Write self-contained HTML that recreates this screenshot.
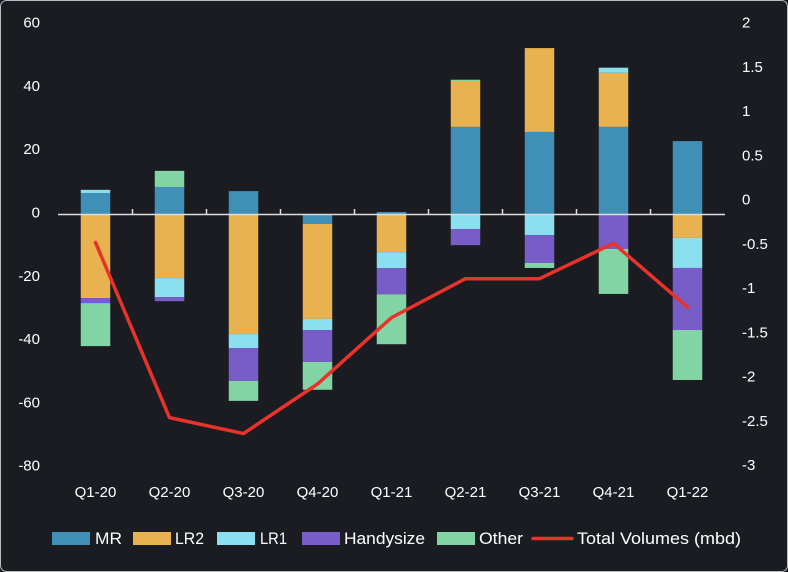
<!DOCTYPE html>
<html><head><meta charset="utf-8"><style>
body{margin:0;background:#1b1c22;}
svg{display:block;font-family:"Liberation Sans",sans-serif;}
</style></head><body>
<svg id="c" width="788" height="572">
<rect x="0.5" y="0.5" width="787" height="571" rx="6" fill="#1b1c22" stroke="#bbb"/>
<g id="g"></g>
</svg>
<script>
const categories=["Q1-20","Q2-20","Q3-20","Q4-20","Q1-21","Q2-21","Q3-21","Q4-21","Q1-22"];
const MR=[6.8,8.7,7.4,-3.0,0.8,27.7,26.1,27.7,23.2];
const LR2=[-26.4,-20.1,-37.8,-30.0,-11.9,14.5,26.5,17.1,-7.4];
const LR1=[1.0,-6.0,-4.4,-3.5,-5.1,-4.6,-6.5,1.6,-9.5];
const Handysize=[-1.6,-1.3,-10.4,-10.1,-8.2,-5.1,-8.8,-10.9,-19.6];
const Other=[-13.6,5.1,-6.3,-8.8,-15.8,0.4,-1.6,-14.2,-15.8];
const totalVolumes=[-0.46,-2.44,-2.62,-2.06,-1.31,-0.87,-0.87,-0.47,-1.19];
const leftTicks=[60,40,20,0,-20,-40,-60,-80];
const rightTicks=[2,1.5,1,0.5,0,-0.5,-1,-1.5,-2,-2.5,-3];
const seriesNames=["MR","LR2","LR1","Handysize","Other"];
const seriesColors=["#3f8fb6","#e9b251","#8be0f0","#785cc7","#83d4a5"];
const seriesData=[MR,LR2,LR1,Handysize,Other];

const NS="http://www.w3.org/2000/svg";
const g=document.getElementById('g');
function mk(t,a,txt){const e=document.createElementNS(NS,t);for(const k in a)e.setAttribute(k,a[k]);if(txt!==undefined)e.textContent=txt;g.appendChild(e);return e;}
const y=v=>214.5-v*3.164;
const yr=v=>201.7-v*88.5;
const x=i=>95.5+i*74;
const bw=29.5;

leftTicks.forEach(t=>{const e=mk('text',{x:40,y:y(t)+3,'text-anchor':'end','font-size':15,fill:'#fff'},String(t));

});
rightTicks.forEach(t=>{const e=mk('text',{x:742,y:yr(t)+3,'text-anchor':'start','font-size':15,fill:'#fff'},String(t));

});

categories.forEach((c,i)=>{
  let pos=0,neg=0;
  seriesData.forEach((s,k)=>{
    const v=s[i];let y0,y1;
    if(v>=0){y0=pos;y1=pos+v;pos=y1;}else{y0=neg;y1=neg+v;neg=y1;}
    const r=mk('rect',{x:x(i)-bw/2,y:Math.min(y(y0),y(y1)),width:bw,height:Math.abs(y(y0)-y(y1)),fill:seriesColors[k]});
    
    
  });
  const l=mk('text',{x:x(i),y:497,'text-anchor':'middle','font-size':15,fill:'#fff'},c);
  
  
});
const ax=mk('line',{x1:58,x2:725,y1:214.5,y2:214.5,stroke:'#ddd','stroke-width':1.5});


for(let i=0;i<categories.length-1;i++){
  const t=mk('line',{x1:x(i)+37,x2:x(i)+37,y1:209,y2:214.5,stroke:'#ddd','stroke-width':1.5});
  
  
}
const pl=mk('polyline',{points:totalVolumes.map((v,i)=>x(i)+','+yr(v)).join(' '),fill:'none',stroke:'#e8322a','stroke-width':3.5,'stroke-linejoin':'round','stroke-linecap':'round'});



const legX=[52,133,217,302,437];
const legTX=[95,175,260,344,479];
const legTW=[27,29,27,81,44];
seriesNames.forEach((n,k)=>{
  const s=mk('rect',{x:legX[k],y:532,width:38,height:13,fill:seriesColors[k]});
  
  
  const t=mk('text',{x:legTX[k],y:544,'font-size':17,fill:'#fff',textLength:legTW[k],lengthAdjust:'spacingAndGlyphs'},n);
  
  
});
const ll=mk('line',{x1:533,x2:572,y1:538.5,y2:538.5,stroke:'#e8322a','stroke-width':3.5,'stroke-linecap':'round'});


const lt=mk('text',{x:577,y:544,'font-size':17,fill:'#fff',textLength:164,lengthAdjust:'spacingAndGlyphs'},'Total Volumes (mbd)');


</script>
</body></html>
